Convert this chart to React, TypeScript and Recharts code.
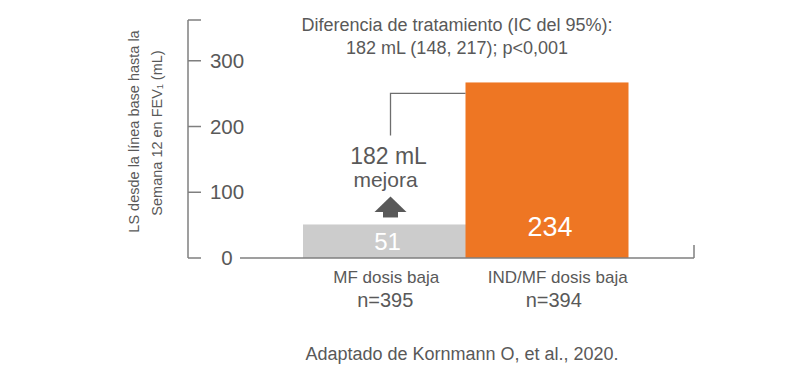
import { Bar, BarChart, ReferenceLine, XAxis, YAxis } from 'recharts';

// Cambio en FEV1 a la semana 12: MF dosis baja vs IND/MF dosis baja.
const categories = ['MF dosis baja', 'IND/MF dosis baja'];
const sampleSizes = ['n=395', 'n=394'];
const valueLabels = ['51', '234'];
// alturas tal como se ven en la figura (la barra naranja no está dibujada a escala)
const barHeights = [51, 267];
const yTicks = [0, 100, 200, 300, 362];

const titleLines = ['Diferencia de tratamiento (IC del 95%):', '182 mL (148, 217); p<0,001'];
const yTitleLines = ['LS desde la línea base hasta la', 'Semana 12 en FEV₁ (mL)'];
const diffLines = ['182 mL', 'mejora'];
const source = 'Adaptado de Kornmann O, et al., 2020.';

const data = categories.map((name, i) => ({ name, n: sampleSizes[i], label: valueLabels[i], value: barHeights[i] }));

const TEXT = '#595959';
const AXIS = '#7f7f7f';
const FILLS = ['#cccccc', '#ee7623'];
const FONT = '"Liberation Sans", Arial, sans-serif';

function BarShape(props: any) {
  const { x, y, width, height, index, payload } = props;
  const cx = x + width / 2;
  const bottom = y + height;
  const ax = cx + 6;
  return (
    <g>
      <rect x={x} y={y} width={width} height={height} fill={FILLS[index]} />
      <text
        x={cx + 3}
        y={bottom - (index === 0 ? 8 : 22)}
        textAnchor="middle"
        fill="#ffffff"
        fontSize={index === 0 ? 24 : 27}
        fontFamily={FONT}
      >
        {payload.label}
      </text>
      {index === 0 && (
        <g fill={TEXT} fontFamily={FONT} textAnchor="middle">
          <text x={ax - 2} y={y - 60} fontSize={23}>{diffLines[0]}</text>
          <text x={ax - 5} y={y - 37.5} fontSize={21}>{diffLines[1]}</text>
          <polygon points={`${ax},${y - 28} ${ax - 16},${y - 12.5} ${ax + 16},${y - 12.5}`} />
          <rect x={ax - 7.5} y={y - 13} width={15} height={6} />
        </g>
      )}
      {index === 1 && (
        <path d={`M${x} ${y + 11} H${x - 75} V${y + 53}`} fill="none" stroke="#6e6e6e" strokeWidth={1.3} />
      )}
    </g>
  );
}

function YTick({ x, y, payload }: any) {
  if (payload.value > 300) return <g />;
  return (
    <text x={x + 26} y={y + 7} textAnchor="middle" fill={TEXT} fontSize={20.5} fontFamily={FONT}>
      {payload.value}
    </text>
  );
}

function XTick({ x, y, payload }: any) {
  const i = categories.indexOf(payload.value);
  const dx = i === 1 ? 11 : 2;
  return (
    <g fill={TEXT} fontFamily={FONT} textAnchor="middle">
      <text x={x + dx} y={y + 25} fontSize={17}>{payload.value}</text>
      <text x={x + dx - (i === 1 ? 4 : 1)} y={y + 49} fontSize={20}>{sampleSizes[i]}</text>
    </g>
  );
}

function Baseline(props: any) {
  const { x1, x2, y1 } = props;
  return (
    <g stroke={AXIS} strokeWidth={1.5} fill="none">
      <line x1={x1 + 52} x2={x2} y1={y1} y2={y1} />
      <line x1={x2} x2={x2} y1={y1 - 13} y2={y1} />
    </g>
  );
}

export default function App() {
  return (
    <div style={{ position: 'absolute', left: 0, top: 0, width: 805, height: 374, background: '#fff' }}>
      <BarChart
        width={805}
        height={374}
        data={data}
        margin={{ top: 20, right: 111, bottom: 56, left: 188 }}
        barCategoryGap={0}
        barGap={0}
      >
        <XAxis
          dataKey="name"
          axisLine={false}
          tickLine={false}
          tickSize={0}
          tickMargin={0}
          height={60}
          padding={{ left: 115, right: 66 }}
          tick={<XTick />}
          interval={0}
        />
        <YAxis
          mirror
          domain={[0, 362]}
          ticks={yTicks}
          interval={0}
          tickSize={13}
          tickMargin={0}
          axisLine={{ stroke: AXIS, strokeWidth: 1.5 }}
          tickLine={{ stroke: AXIS, strokeWidth: 1.5 }}
          tick={<YTick />}
        />
        <Bar dataKey="value" shape={<BarShape />} isAnimationActive={false} />
        <ReferenceLine y={0} shape={<Baseline />} />
      </BarChart>
      <svg width={805} height={374} style={{ position: 'absolute', left: 0, top: 0, pointerEvents: 'none' }}>
        <g fill={TEXT} fontFamily={FONT} textAnchor="middle">
          <text x={457} y={31} fontSize={18}>{titleLines[0]}</text>
          <text x={457} y={54} fontSize={18}>{titleLines[1]}</text>
          <text x={462} y={360} fontSize={18}>{source}</text>
          <text transform="translate(139 131.5) rotate(-90)" fontSize={14.5}>{yTitleLines[0]}</text>
          <text transform="translate(162 133) rotate(-90)" fontSize={14.5}>{yTitleLines[1]}</text>
        </g>
      </svg>
    </div>
  );
}
